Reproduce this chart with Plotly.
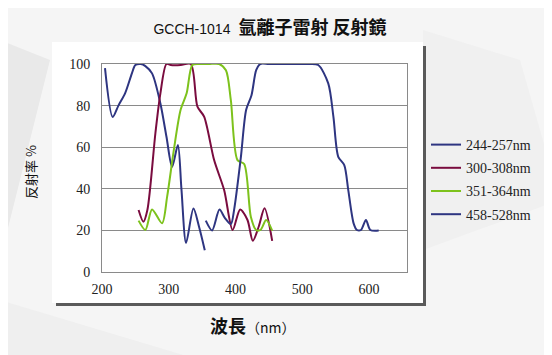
import plotly.graph_objects as go

# ---- data ----
s1_name = "244-257nm"
s1_x = [204.5, 216, 224.6, 234.7, 244.8, 250, 258, 265, 275, 287.5, 296.6, 305, 313.7, 319, 326, 337, 345.4, 354]
s1_y = [98, 74.5, 80, 86, 95.5, 99.5, 100, 99, 95.5, 81, 65, 50.5, 61, 40, 14, 30.5, 21.8, 10.5]

s2_name = "300-308nm"
s2_x = [254.8, 262, 268, 280, 287.5, 296.6, 303, 318, 333, 343, 353, 368, 383, 395.7, 407, 418, 426, 435, 443.5, 455]
s2_y = [29.8, 24.2, 29.8, 66.7, 85.9, 100, 99.5, 99.5, 100, 79.5, 74.7, 53.8, 39.4, 20.2, 30.1, 25, 15, 22, 30.6, 15]

s3_name = "351-364nm"
s3_x = [254.8, 265, 275, 290, 297.6, 307.6, 317.7, 326.8, 335.4, 345, 360, 375.6, 385.7, 393, 403, 413, 423, 431, 437.5, 446, 455]
s3_y = [24.7, 20.2, 30.1, 23.4, 36.2, 58.6, 77.9, 85.9, 99.5, 100, 100, 100, 97, 82.7, 53.8, 51.9, 26.6, 20.2, 20.2, 25, 19.9]

s4_name = "458-528nm"
s4_x = [355.5, 365, 376, 384, 393, 398, 408, 416, 424, 431, 437, 450, 480, 510, 524, 539, 546.7, 554, 563, 569, 577, 582, 588, 595.5, 602, 614.6]
s4_y = [24.7, 20, 30, 26, 23, 30, 55, 78, 85, 97, 100, 100, 100, 100, 99.5, 90.7, 74.7, 55.4, 51.4, 39.4, 23.4, 20.2, 20.2, 25, 20.2, 19.9]

x_ticks = [200, 300, 400, 500, 600]
y_ticks = [0, 20, 40, 60, 80, 100]

title_code = "GCCH-1014"
title_cn = "氩離子雷射 反射鏡"
x_title = "波長"
x_unit = "（nm）"
y_title = "反射率 %"

colors = ["#2E3581", "#7A0C3F", "#7DC21C", "#2E3581"]

fig = go.Figure()
for i, (name, xs, ys, c) in enumerate([(s1_name, s1_x, s1_y, colors[0]),
                                       (s2_name, s2_x, s2_y, colors[1]),
                                       (s3_name, s3_x, s3_y, colors[2]),
                                       (s4_name, s4_x, s4_y, colors[3])]):
    fig.add_trace(go.Scatter(x=xs, y=ys, mode="lines", name=name, legendgroup=f"g{i}",
                             line=dict(color=c, width=2, shape="spline", smoothing=0.8)))

W, H = 552, 355
OFF = 8  # page body margin
# screen-pixel layout measured from the reference
L, R, T, B = 52 - OFF, 423 - OFF, 42 - OFF, 303 - OFF   # white chart box (figure px)
pw, ph = R - L, B - T
pl, pr, pt, pb = 102, 407, 64, 272  # plot area (screen px)

def px(xs):
    return (xs - OFF - L) / pw

def py(ys):
    return (B - (ys - OFF)) / ph

serif = "Liberation Serif"
cjk = "Noto Sans CJK TC"

shapes = [
    # faint background polygons
    dict(type="path", xref="paper", yref="paper", layer="below",
         path=f"M {px(0)} {py(40)} L {px(50)} {py(60)} L {px(0)} {py(260)} Z",
         fillcolor="#e9e9e9", line=dict(width=0)),
    dict(type="path", xref="paper", yref="paper", layer="below",
         path=f"M {px(423)} {py(30)} L {px(520)} {py(60)} L {px(560)} {py(200)} L {px(423)} {py(250)} Z",
         fillcolor="#f0f0f0", line=dict(width=0)),
    dict(type="path", xref="paper", yref="paper", layer="below",
         path=f"M {px(0)} {py(300)} L {px(200)} {py(360)} L {px(0)} {py(360)} Z",
         fillcolor="#efefef", line=dict(width=0)),
    # shadow
    dict(type="rect", xref="paper", yref="paper", layer="below",
         x0=px(56), x1=px(426), y0=py(306), y1=py(46),
         fillcolor="#5a5a5a", line=dict(width=0)),
    # white box
    dict(type="rect", xref="paper", yref="paper", layer="below",
         x0=0, x1=1, y0=0, y1=1, fillcolor="white", line=dict(width=0)),
]

annotations = [
    dict(xref="paper", yref="paper", x=px(253), y=py(325), showarrow=False,
         text=f"<b>{x_title}</b><span style='font-size:14px'>{x_unit}</span>",
         font=dict(family=cjk, size=18, color="#111"), xanchor="center", yanchor="middle"),
    dict(xref="paper", yref="paper", x=px(30), y=py(172), showarrow=False,
         text=y_title, textangle=-90,
         font=dict(family=cjk, size=13, color="#111"), xanchor="center", yanchor="middle"),
]

fig.update_layout(
    width=W, height=H,
    margin=dict(l=L, r=W - R, t=T, b=H - B, autoexpand=False),
    paper_bgcolor="#f5f5f5",
    plot_bgcolor="white",
    shapes=shapes,
    annotations=annotations,
    title=dict(
        text=f"<span style='font-family:Liberation Sans; font-size:14px'>{title_code}</span>  <b>{title_cn}</b>",
        font=dict(family=cjk, size=18, color="#111"),
        x=262 / W, xref="container", xanchor="center",
        y=1 - 20 / H, yref="container", yanchor="middle"),
    xaxis=dict(domain=[px(pl), px(pr)], range=[200, 657], tickvals=x_ticks,
               showgrid=False, showline=True, linecolor="#8a8a8a", linewidth=1, mirror=True,
               ticks="", tickfont=dict(family=serif, size=14, color="#222"), zeroline=False,
               ticklabelstandoff=4, automargin=False),
    yaxis=dict(domain=[py(pb), py(pt)], range=[0, 100], tickvals=y_ticks,
               showgrid=True, gridcolor="#8a8a8a", gridwidth=1,
               showline=True, linecolor="#8a8a8a", linewidth=1, mirror=True,
               ticks="", tickfont=dict(family=serif, size=14, color="#222"), zeroline=False,
               ticklabelstandoff=8, automargin=False),
    legend=dict(xref="container", yref="container", x=418 / W, y=1 - 121 / H,
                xanchor="left", yanchor="top", bgcolor="rgba(0,0,0,0)",
                traceorder="grouped", tracegroupgap=2,
                font=dict(family=serif, size=14, color="#222"), itemwidth=30),
    showlegend=True,
)

fig.write_html("out.html")
